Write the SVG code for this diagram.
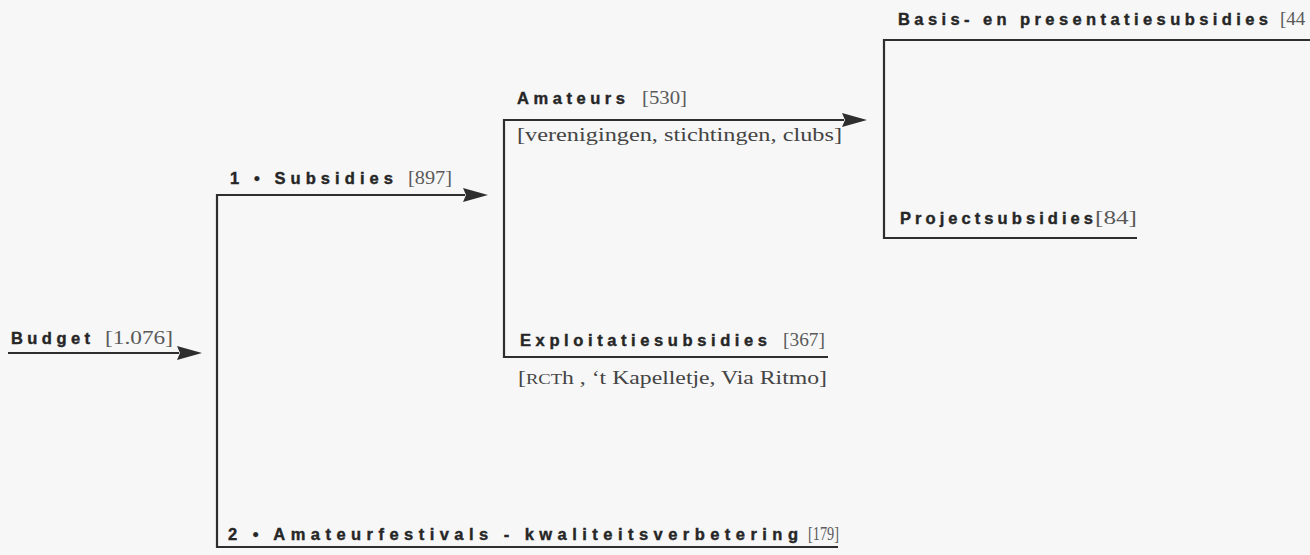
<svg xmlns="http://www.w3.org/2000/svg" width="1310" height="555" viewBox="0 0 1310 555">
<defs>
<style>
.bg{fill:#f7f7f7}
.ln{fill:none;stroke:#2e2e2e;stroke-width:2.2}
.lb{font-family:"Liberation Sans",Arial,sans-serif;font-weight:bold;font-size:16.5px;fill:#262626;stroke:#262626;stroke-width:0.4}
.nm{font-family:"Liberation Serif","Times New Roman",serif;font-size:19px;fill:#5a5a5a}
.sub{font-family:"Liberation Serif","Times New Roman",serif;font-size:18.5px;fill:#444}
</style>
<marker id="ah" markerUnits="userSpaceOnUse" markerWidth="28" markerHeight="18" refX="2" refY="9" orient="auto">
<path d="M0,2 L25,9 L0,16 L3,9 Z" fill="#2e2e2e"/>
</marker>
</defs>
<rect class="bg" x="0" y="0" width="1310" height="555"/>
<g id="connectors">
<line class="ln" x1="8" y1="353" x2="179" y2="353" marker-end="url(#ah)"/>
<polyline class="ln" points="838,547 217,547 217,195 465,195" marker-end="url(#ah)"/>
<polyline class="ln" points="828,357 504,357 504,120 844,120" marker-end="url(#ah)"/>
<polyline class="ln" points="1137,238 884,238 884,40 1310,40"/>
</g>
<g id="budget">
<text class="lb" x="11" y="344" textLength="79" lengthAdjust="spacing">Budget</text>
<text class="nm" x="105" y="344" textLength="68" lengthAdjust="spacingAndGlyphs">[1.076]</text>
</g>
<g id="subsidies">
<text class="lb" x="230" y="184" textLength="163" lengthAdjust="spacing">1 • Subsidies</text>
<text class="nm" x="408" y="184" textLength="44" lengthAdjust="spacingAndGlyphs">[897]</text>
</g>
<g id="amateurfestivals">
<text class="lb" x="228" y="540" textLength="570" lengthAdjust="spacing">2 • Amateurfestivals - kwaliteitsverbetering</text>
<text class="nm" x="808" y="540" font-size="17" textLength="31" lengthAdjust="spacingAndGlyphs">[179]</text>
</g>
<g id="amateurs">
<text class="lb" x="517" y="104" textLength="108" lengthAdjust="spacing">Amateurs</text>
<text class="nm" x="642" y="104" textLength="45" lengthAdjust="spacingAndGlyphs">[530]</text>
<text class="sub" x="517" y="141" textLength="325" lengthAdjust="spacingAndGlyphs">[verenigingen, stichtingen, clubs]</text>
</g>
<g id="exploitatiesubsidies">
<text class="lb" x="520" y="346" textLength="247" lengthAdjust="spacing">Exploitatiesubsidies</text>
<text class="nm" x="783" y="346" textLength="42" lengthAdjust="spacingAndGlyphs">[367]</text>
<text class="sub" x="518" y="384" textLength="309" lengthAdjust="spacingAndGlyphs">[<tspan font-size="14.5">RCT</tspan>h , ‘t Kapelletje, Via Ritmo]</text>
</g>
<g id="basis">
<text class="lb" x="898" y="25" textLength="370" lengthAdjust="spacing">Basis- en presentatiesubsidies</text>
<text class="nm" x="1280" y="25">[44</text>
</g>
<g id="projectsubsidies">
<text class="lb" x="900" y="224" textLength="193" lengthAdjust="spacing">Projectsubsidies</text>
<text class="nm" x="1095" y="224" textLength="42" lengthAdjust="spacingAndGlyphs">[84]</text>
</g>
</svg>
